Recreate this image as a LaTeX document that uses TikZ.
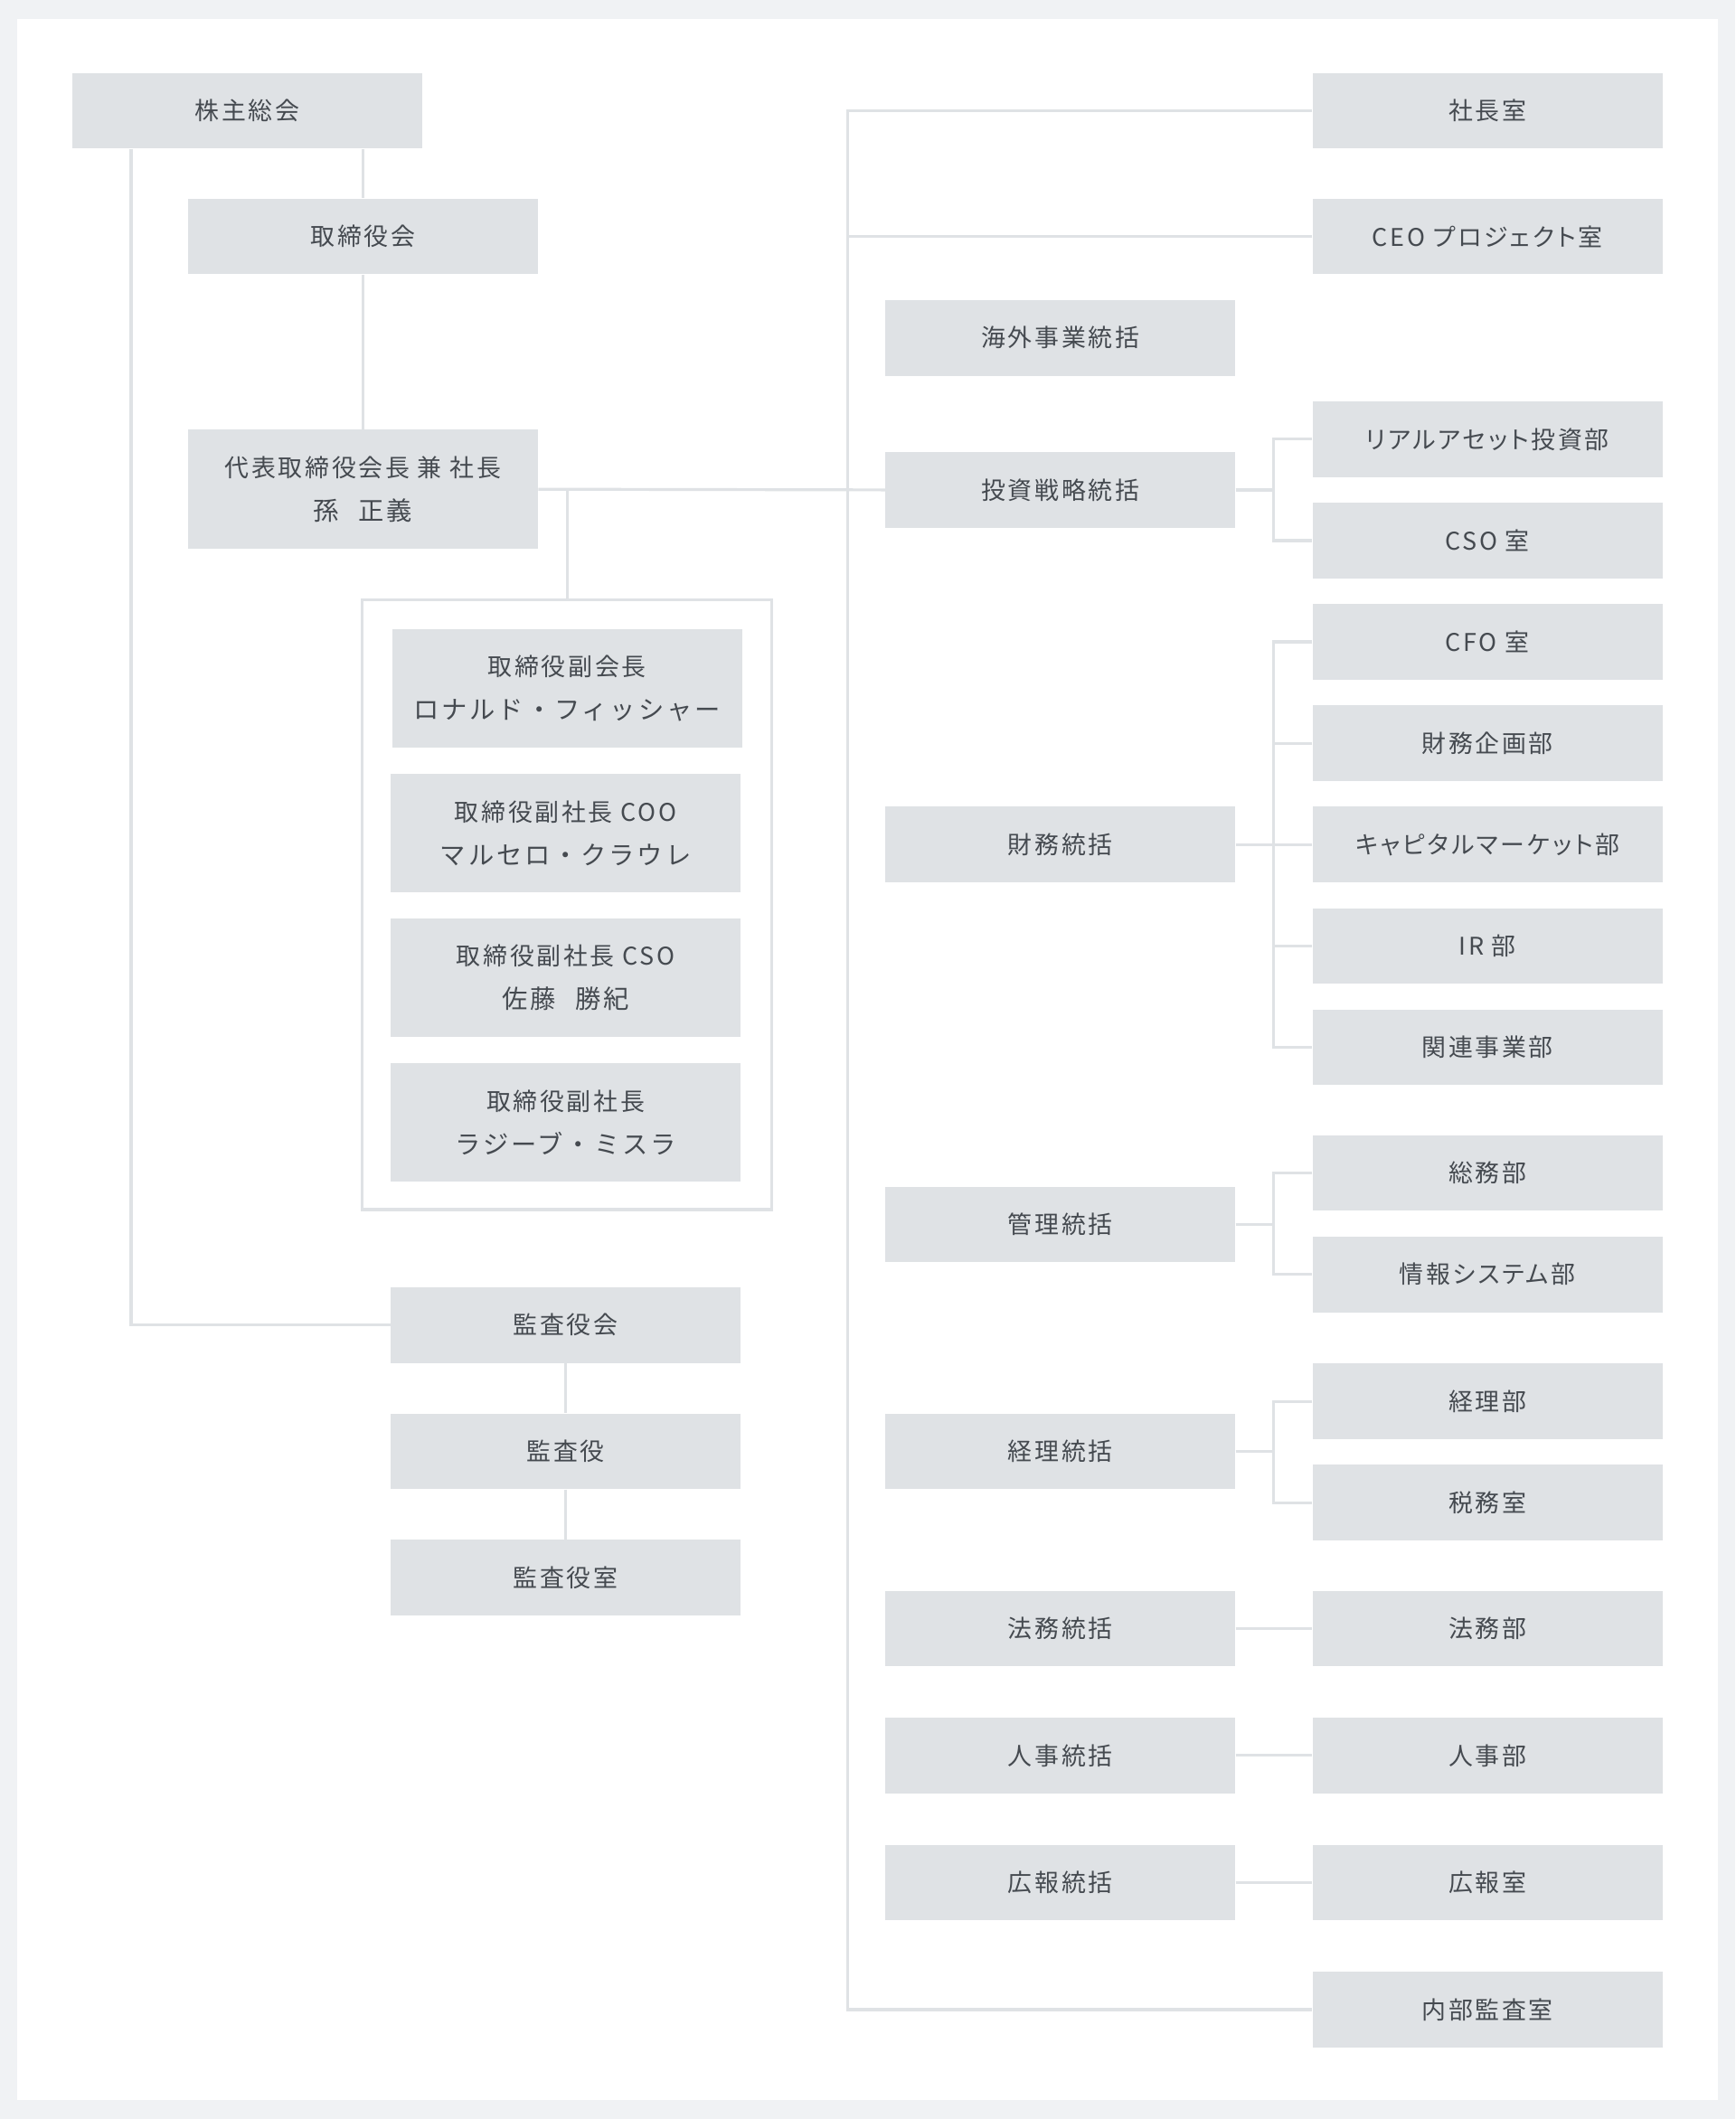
\documentclass[tikz,border=0pt]{standalone}
\usepackage{fontspec}
\newfontfamily\jpfont[LetterSpace=10]{Noto Sans CJK JP}
\newfontfamily\jpprop[LetterSpace=10, RawFeature=+palt]{Noto Sans CJK JP}
\definecolor{boxgray}{HTML}{DFE2E5}
\definecolor{linegray}{HTML}{DFE2E5}
\definecolor{textgray}{HTML}{454A50}
\definecolor{bggray}{HTML}{F0F2F4}
\newcommand\nameline[1]{{\fontsize{14.2}{24}\selectfont #1}}
\newcommand\gap{\hspace{0.75em}}

\begin{document}
\begin{tikzpicture}[x=0.75pt, y=-0.75pt,
  unit/.style={fill=boxgray, text=textgray, font=\jpfont\fontsize{13.5}{24}\selectfont,
    minimum width=194.25pt, minimum height=42pt, inner sep=0pt, align=center},
  tall/.style={unit, minimum height=66pt},
  dept/.style={unit, font=\jpprop\fontsize{13.5}{24}\selectfont},
  link/.style={draw=linegray, line width=1.6pt}]
  \fill[bggray] (0,0) rectangle (1284,1568);
  \fill[white] (13,14) rectangle (1271,1554);
  % left side
  \node[unit] (kabu) at (183,82) {株主総会};
  \node[unit] (torishimari) at (268.5,175) {取締役会};
  \node[tall] (daihyo) at (268.5,362) {代表取締役会長 兼 社長\\\nameline{孫\gap 正義}};
  \node[draw=linegray, line width=1.6pt, minimum width=227.25pt, minimum height=338.25pt, inner sep=0pt] (yakuin) at (419.5,669.5) {};
  \node[tall] (fuku1) at (419.5,509.5) {取締役副会長\\\nameline{ロナルド・フィッシャー}};
  \node[tall] (fuku2) at (418.5,616.5) {取締役副社長 COO\\\nameline{マルセロ・クラウレ}};
  \node[tall] (fuku3) at (418.5,723.5) {取締役副社長 CSO\\\nameline{佐藤\gap 勝紀}};
  \node[tall] (fuku4) at (418.5,830.5) {取締役副社長\\\nameline{ラジーブ・ミスラ}};
  \node[unit] (kansakai) at (418.5,980.5) {監査役会};
  \node[unit] (kansayaku) at (418.5,1074) {監査役};
  \node[unit] (kansashitsu) at (418.5,1167.5) {監査役室};
  % middle column
  \foreach \name/\y/\txt in {kaigai/250/海外事業統括, toushi/362.5/投資戦略統括, zaimu/625/財務統括,
      kanri/906/管理統括, keiri/1074/経理統括, houmu/1205/法務統括, jinji/1299/人事統括, kouhou/1393/広報統括}
    \node[dept] (\name) at (784.5,\y) {\txt};
  % right column
  \foreach \name/\y/\txt in {shacho/82/社長室, ceopj/175/CEO プロジェクト室, real/325/リアルアセット投資部,
      cso/400/CSO 室, cfo/475/CFO 室, zaimukikaku/550/財務企画部, capital/625/キャピタルマーケット部,
      ir/700/IR 部, kanren/775/関連事業部, soumu/868/総務部, jouhou/943/情報システム部,
      keiribu/1037/経理部, zeimu/1112/税務室, houmubu/1205/法務部, jinjibu/1299/人事部,
      kouhoushitsu/1393/広報室, naibu/1487/内部監査室}
    \node[dept] (\name) at (1100.5,\y) {\txt};
  % connectors
  \coordinate (lbus) at (97,0);
  \coordinate (trunk) at (627,0);
  \coordinate (sub) at (942,0);
  \draw[link] (kabu.south -| torishimari) -- (torishimari.north);
  \draw[link] (torishimari.south) -- (daihyo.north);
  \draw[link] (kabu.south -| lbus) |- (kansakai.west);
  \draw[link] (kansakai.south) -- (kansayaku.north);
  \draw[link] (kansayaku.south) -- (kansashitsu.north);
  \draw[link] (daihyo.east) -- (toushi.west);
  \draw[link] (yakuin.north) -- (yakuin.north |- daihyo.east);
  \draw[link] (shacho.west) -- (shacho.west -| trunk) -- (naibu.west -| trunk) -- (naibu.west);
  \draw[link] (ceopj.west) -- (ceopj.west -| trunk);
  \draw[link] (real.west) -- (real.west -| sub) -- (cso.west -| sub) -- (cso.west);
  \draw[link] (toushi.east) -- (toushi.east -| sub);
  \draw[link] (cfo.west) -- (cfo.west -| sub) -- (kanren.west -| sub) -- (kanren.west);
  \foreach \c in {zaimukikaku,capital,ir}
    \draw[link] (\c.west) -- (\c.west -| sub);
  \draw[link] (zaimu.east) -- (zaimu.east -| sub);
  \draw[link] (soumu.west) -- (soumu.west -| sub) -- (jouhou.west -| sub) -- (jouhou.west);
  \draw[link] (kanri.east) -- (kanri.east -| sub);
  \draw[link] (keiribu.west) -- (keiribu.west -| sub) -- (zeimu.west -| sub) -- (zeimu.west);
  \draw[link] (keiri.east) -- (keiri.east -| sub);
  \draw[link] (houmu.east) -- (houmubu.west);
  \draw[link] (jinji.east) -- (jinjibu.west);
  \draw[link] (kouhou.east) -- (kouhoushitsu.west);
\end{tikzpicture}
\end{document}
